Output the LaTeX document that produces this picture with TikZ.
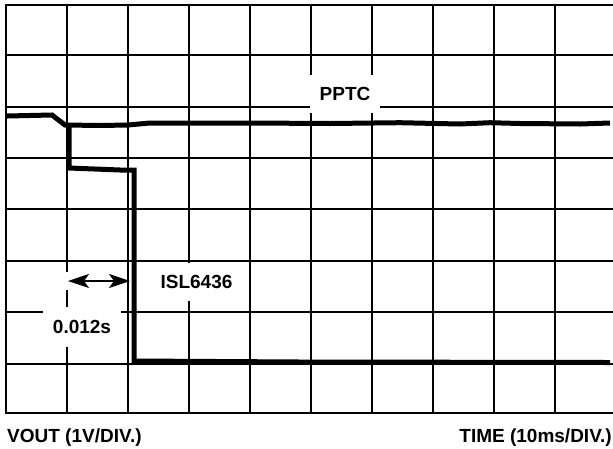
\documentclass[tikz,border=0pt]{standalone}
\usepackage{amsmath}
\usepackage{fontspec}
\setmainfont{Liberation Sans}
\usetikzlibrary{arrows, arrows.meta}

\tikzset{
  gridline/.style={black, line width=1.9pt, line cap=rect},
  trace/.style={black, line width=5pt},
  lbl/.style={fill=white, inner xsep=10pt, inner ysep=0pt, minimum height=38pt,
    text height=13.5pt, text depth=0pt, font=\bfseries\fontsize{19}{21}\selectfont},
  axlbl/.style={inner sep=0pt, font=\bfseries\fontsize{19}{21}\selectfont}
}

\begin{document}
\begin{tikzpicture}[x=1pt,y=-1pt]
\useasboundingbox (0,0) rectangle (613,448);
\fill[white] (0,0) rectangle (613,448);

% vertical grid lines
\draw[gridline] (6,5) -- (6,413);
\draw[gridline] (67,5) -- (67,413);
\draw[gridline] (128,5) -- (128,413);
\draw[gridline] (189,5) -- (189,413);
\draw[gridline] (250,5) -- (250,413);
\draw[gridline] (311,5) -- (311,413);
\draw[gridline] (372,5) -- (372,413);
\draw[gridline] (433,5) -- (433,413);
\draw[gridline] (494,5) -- (494,413);
\draw[gridline] (555,5) -- (555,413);

% horizontal grid lines
\draw[gridline] (6,5) -- (613,5);
\draw[gridline] (6,55) -- (613,55);
\draw[gridline] (6,107) -- (613,107);
\draw[gridline] (6,158) -- (613,158);
\draw[gridline] (6,209) -- (613,209);
\draw[gridline] (6,261) -- (613,261);
\draw[gridline] (6,312) -- (613,312);
\draw[gridline] (6,364) -- (613,364);
\draw[gridline] (6,413) -- (613,413);

% PPTC trace
\draw[trace] (7,116) -- (52,115) -- (65,125) -- (100,125.5) -- (128,125) -- (150,123)
  -- (250,123) -- (330,123.5) -- (400,122.7) -- (460,124) -- (490,122.7)
  -- (520,123.5) -- (580,124) -- (610,123);

% ISL6436 trace
\draw[trace] (69,124) -- (69,168) -- (120,170) -- (134,170) -- (134,361)
  -- (300,362) -- (610,362.5);

% labels
\node[lbl] (pptc) at (345,94) {PPTC};
\node[lbl] (isl) at (196.5,282) {ISL6436};
\node[lbl, minimum height=40pt] (dt) at (82,327) {0.012s};

% delay arrow
\coordinate (dtl) at (68,281);
\coordinate (dtr) at (130,281);
\draw[white, line width=18pt] ([xshift=-5pt]dtl) -- ([xshift=4pt]dtl);
\draw[line width=2pt, {Stealth[length=21pt,width=14pt,inset=5pt]}-{Stealth[length=21pt,width=14pt,inset=5pt]}] (dtl) -- (dtr);

% axis texts
\node[axlbl, anchor=base west] (vout) at (7,442) {VOUT (1V/DIV.)};
\node[axlbl, anchor=base east] (time) at (612,442) {TIME (10ms/DIV.)};
\end{tikzpicture}
\end{document}
